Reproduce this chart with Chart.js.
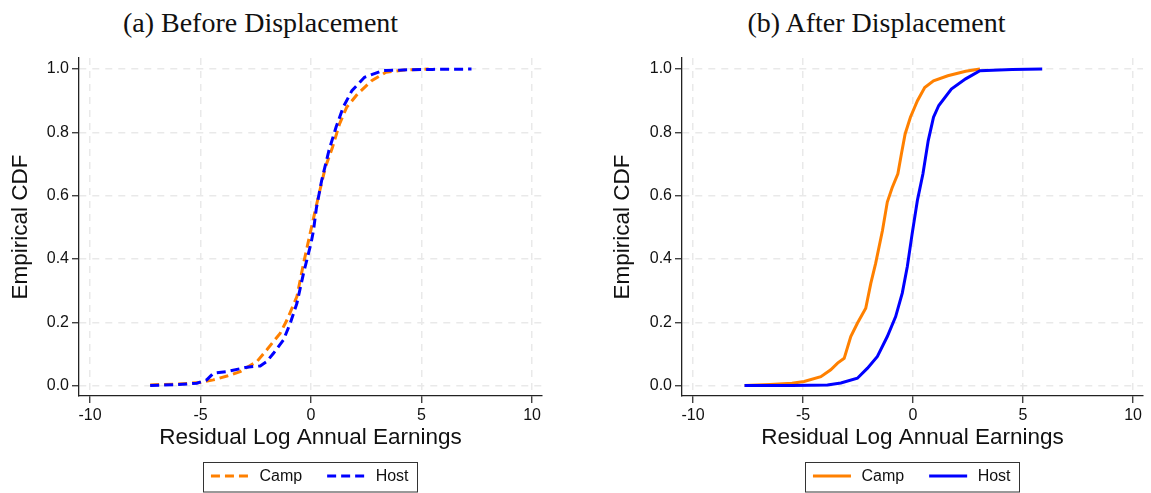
<!DOCTYPE html>
<html>
<head>
<meta charset="utf-8">
<script src="https://cdn.jsdelivr.net/npm/chart.js@4.4.1/dist/chart.umd.min.js"></script>
<style>
  html, body { margin: 0; padding: 0; background: #fff; }
  #wrap { position: relative; width: 1151px; height: 493px; overflow: hidden; background: #fff; }
  canvas { position: absolute; top: 0; }
  .ttl { position: absolute; top: 7px; font-family: "Liberation Serif", "Times New Roman", serif; font-size: 28px; color: #111; white-space: nowrap; transform: translateX(-50%); }
</style>
</head>
<body>
<div id="wrap">
  <div class="ttl" id="t1" style="left:260.5px">(a) Before Displacement</div>
  <div class="ttl" id="t2" style="left:876.5px">(b) After Displacement</div>
  <canvas id="c1" width="575" height="493" style="left:0"></canvas>
  <canvas id="c2" width="576" height="493" style="left:575px"></canvas>
</div>
<script>
// ---- Tick labels ----
const xTickValues = [-10, -5, 0, 5, 10];
const yTickValues = [0.0, 0.2, 0.4, 0.6, 0.8, 1.0];
const seriesNames = ["Camp", "Host"];

// ---- (a) Before Displacement ----
const beforeCampX = [-7.28, -6.0, -5.02, -4.42, -3.8, -3.21, -2.45, -2.0, -1.40, -1.09, -0.64, -0.34, -0.04, 0.16, 0.40, 0.65, 0.97, 1.29, 1.61, 2.10, 2.74, 3.39, 4.2, 5.32];
const beforeCampY = [0.002, 0.005, 0.0095, 0.018, 0.03, 0.044, 0.076, 0.113, 0.165, 0.207, 0.281, 0.386, 0.481, 0.544, 0.617, 0.69, 0.753, 0.827, 0.879, 0.921, 0.963, 0.99, 0.997, 1.0];
const beforeHostX = [-7.28, -6.0, -5.17, -4.72, -4.42, -3.81, -2.9, -2.3, -2.0, -1.70, -1.25, -0.94, -0.64, -0.34, 0.0, 0.11, 0.24, 0.48, 0.81, 1.13, 1.45, 1.85, 2.42, 3.23, 4.5, 5.5, 7.26];
const beforeHostY = [0.0, 0.003, 0.0075, 0.018, 0.039, 0.044, 0.058, 0.062, 0.076, 0.102, 0.144, 0.197, 0.26, 0.355, 0.45, 0.49, 0.56, 0.648, 0.743, 0.816, 0.879, 0.932, 0.974, 0.995, 0.998, 0.999, 1.0];

// ---- (b) After Displacement ----
const afterCampX = [-7.65, -6.5, -5.5, -4.95, -4.19, -3.74, -3.43, -3.13, -2.83, -2.53, -2.15, -1.92, -1.70, -1.39, -1.17, -0.95, -0.69, -0.53, -0.36, -0.12, 0.20, 0.53, 0.93, 1.58, 2.39, 3.04];
const afterCampY = [0.0, 0.003, 0.007, 0.013, 0.028, 0.05, 0.071, 0.086, 0.155, 0.197, 0.244, 0.323, 0.386, 0.49, 0.58, 0.625, 0.669, 0.732, 0.795, 0.848, 0.90, 0.942, 0.963, 0.979, 0.993, 1.0];
const afterHostX = [-7.66, -5.5, -3.89, -3.28, -2.53, -2.07, -1.62, -1.17, -0.79, -0.49, -0.26, -0.04, 0.20, 0.45, 0.69, 0.93, 1.17, 1.74, 2.39, 3.04, 4.5, 5.87];
const afterHostY = [0.0, 0.0005, 0.002, 0.008, 0.023, 0.055, 0.092, 0.155, 0.218, 0.292, 0.376, 0.48, 0.586, 0.669, 0.774, 0.848, 0.885, 0.937, 0.969, 0.995, 0.999, 1.0];

const ORANGE = "rgb(255,128,0)";
const BLUE = "rgb(0,0,255)";
const SANS = '"Liberation Sans", Arial, Helvetica, sans-serif';

function pts(xs, ys) { return xs.map((x, i) => ({ x: x, y: ys[i] })); }

const legendPlugin = {
  id: "boxLegend",
  afterDraw(chart, args, opts) {
    const ctx = chart.ctx;
    const ca = chart.chartArea;
    const cx = (ca.left + ca.right) / 2;
    ctx.save();
    ctx.font = "16px " + SANS;
    const items = chart.data.datasets.slice().sort((a, b) => a.legendIndex - b.legendIndex);
    const sampleW = 38, padL = 7.5, gapT = 10.5, gapItem = 25, padR = 9;
    let w = padL;
    items.forEach((d, i) => {
      w += sampleW + gapT + ctx.measureText(d.label).width;
      if (i < items.length - 1) w += gapItem;
    });
    w += padR;
    const top = 462.5, h = 29.5;
    const left = cx - w / 2;
    ctx.fillStyle = "#fff";
    ctx.fillRect(left, top, w, h);
    ctx.strokeStyle = "#333";
    ctx.lineWidth = 1;
    ctx.strokeRect(Math.round(left) + 0.5, top, Math.round(w), h);
    let x = left + padL;
    const ly = top + 13.5;
    items.forEach((d, i) => {
      ctx.beginPath();
      ctx.strokeStyle = d.borderColor;
      ctx.lineWidth = 3;
      ctx.setLineDash(d.borderDash || []);
      ctx.moveTo(x, ly);
      ctx.lineTo(x + sampleW, ly);
      ctx.stroke();
      ctx.setLineDash([]);
      x += sampleW + gapT;
      ctx.fillStyle = "#111";
      ctx.textBaseline = "middle";
      ctx.textAlign = "left";
      ctx.fillText(d.label, x, ly + 1);
      x += ctx.measureText(d.label).width + gapItem;
    });
    ctx.restore();
  }
};

function makeChart(canvasId, campPts, hostPts, dashed, pad, yWidth) {
  const dash = dashed ? [9, 5] : [];
  return new Chart(document.getElementById(canvasId), {
    type: "scatter",
    data: {
      datasets: [
        { label: seriesNames[0], data: campPts, showLine: true, borderColor: ORANGE, backgroundColor: ORANGE,
          borderWidth: 3, borderDash: dash, pointRadius: 0, tension: 0, order: 1, legendIndex: 0 },
        { label: seriesNames[1], data: hostPts, showLine: true, borderColor: BLUE, backgroundColor: BLUE,
          borderWidth: 3, borderDash: dash, pointRadius: 0, tension: 0, order: 0, legendIndex: 1 }
      ]
    },
    options: {
      responsive: false,
      animation: false,
      devicePixelRatio: 1,
      layout: { padding: pad },
      plugins: { legend: { display: false }, tooltip: { enabled: false }, title: { display: false } },
      scales: {
        x: {
          type: "linear", min: -10.5, max: 10.45,
          afterBuildTicks: s => { s.ticks = xTickValues.map(v => ({ value: v })); },
          afterFit: s => { s.height = 60; },
          ticks: { includeBounds: false, font: { size: 16, family: SANS }, color: "#111", padding: 3, maxRotation: 0,
                   callback: v => String(v) },
          grid: { color: "#e9e9e9", lineWidth: 1.5, tickLength: 7, tickColor: "#222", tickWidth: 1.2, tickBorderDash: [] },
          border: { display: true, color: "#222", width: 1.3, dash: [7, 6] },
          title: { display: true, text: "Residual Log Annual Earnings", font: { size: 22.5, family: SANS }, color: "#111",
                   padding: { top: 0, bottom: 4.5 } }
        },
        y: {
          type: "linear", min: -0.033, max: 1.035,
          afterBuildTicks: s => { s.ticks = yTickValues.map(v => ({ value: v })); },
          afterFit: s => { s.width = yWidth; },
          ticks: { includeBounds: false, font: { size: 16, family: SANS }, color: "#111", padding: 3,
                   callback: v => Number(v).toFixed(1) },
          grid: { color: "#e9e9e9", lineWidth: 1.5, tickLength: 7, tickColor: "#222", tickWidth: 1.2, tickBorderDash: [] },
          border: { display: true, color: "#222", width: 1.3, dash: [7, 6] },
          title: { display: true, text: "Empirical CDF", font: { size: 22.5, family: SANS }, color: "#111",
                   padding: { top: 7, bottom: 0 } }
        }
      }
    },
    plugins: [legendPlugin]
  });
}

makeChart("c1", pts(beforeCampX, beforeCampY), pts(beforeHostX, beforeHostY), true,
          { left: 0, right: 33, top: 58, bottom: 37 }, 79);
makeChart("c2", pts(afterCampX, afterCampY), pts(afterHostX, afterHostY), false,
          { left: 27, right: 8, top: 58, bottom: 37 }, 80);
</script>
</body>
</html>
